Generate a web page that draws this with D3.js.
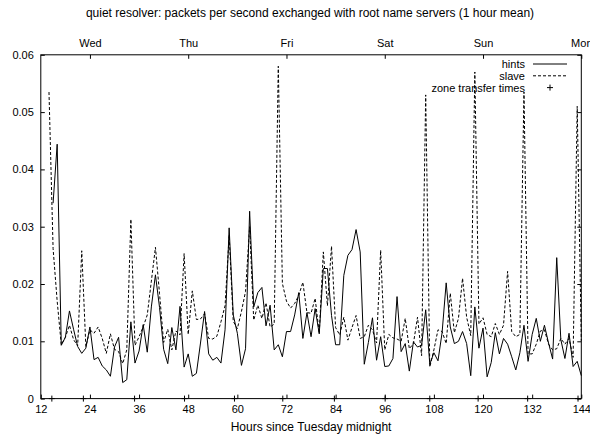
<!DOCTYPE html>
<html>
<head>
<meta charset="utf-8">
<script src="https://cdn.jsdelivr.net/npm/d3@7"></script>
<style>
  body { margin: 0; background: #fff; }
  svg { display: block; }
</style>
</head>
<body>
<div id="chart"></div>
<script>
// hourly means, hours since Tuesday midnight
var hintsStart = 15;
var hintsValues = [
  0.0341, 0.0444, 0.0093, 0.0107, 0.0153, 0.0121, 0.0091, 0.0079, 0.0088, 0.0125,
  0.0068, 0.0072, 0.0057, 0.0050, 0.0039, 0.0090, 0.0107, 0.0028, 0.0033, 0.0134,
  0.0062, 0.0083, 0.0129, 0.0081, 0.0160, 0.0216, 0.0159, 0.0086, 0.0061, 0.0124,
  0.0085, 0.0161, 0.0055, 0.0078, 0.0039, 0.0044, 0.0097, 0.0152, 0.0078, 0.0067,
  0.0072, 0.0062, 0.0120, 0.0298, 0.0146, 0.0114, 0.0058, 0.0087, 0.0327, 0.0160,
  0.0185, 0.0194, 0.0127, 0.0163, 0.0085, 0.0094, 0.0073, 0.0117, 0.0117, 0.0146,
  0.0185, 0.0105, 0.0150, 0.0108, 0.0157, 0.0113, 0.0227, 0.0227, 0.0145, 0.0094,
  0.0094, 0.0215, 0.0250, 0.0260, 0.0295, 0.0256, 0.0060, 0.0098, 0.0141, 0.0067,
  0.0108, 0.0056, 0.0057, 0.0070, 0.0178, 0.0082, 0.0096, 0.0048, 0.0099, 0.0090,
  0.0093, 0.0155, 0.0060, 0.0080, 0.0066, 0.0115, 0.0202, 0.0125, 0.0096, 0.0100,
  0.0117, 0.0096, 0.0040, 0.0160, 0.0088, 0.0123, 0.0038, 0.0063, 0.0115, 0.0078,
  0.0105, 0.0095, 0.0073, 0.0050, 0.0080, 0.0128, 0.0065, 0.0112, 0.0140, 0.0100,
  0.0128, 0.0097, 0.0069, 0.0246, 0.0103, 0.0070, 0.0114, 0.0056, 0.0065, 0.0040
];

var slaveStart = 14;
var slaveValues = [
  0.0535, 0.0262, 0.0170, 0.0094, 0.0107, 0.0128, 0.0103, 0.0092, 0.0258, 0.0091,
  0.0120, 0.0114, 0.0125, 0.0105, 0.0079, 0.0113, 0.0086, 0.0082, 0.0061, 0.0085,
  0.0313, 0.0093, 0.0108, 0.0125, 0.0146, 0.0205, 0.0264, 0.0183, 0.0098, 0.0121,
  0.0085, 0.0118, 0.0111, 0.0253, 0.0112, 0.0188, 0.0138, 0.0139, 0.0148, 0.0105,
  0.0104, 0.0109, 0.0134, 0.0162, 0.0285, 0.0135, 0.0122, 0.0152, 0.0187, 0.0300,
  0.0137, 0.0163, 0.0140, 0.0167, 0.0125, 0.0130, 0.0580, 0.0201, 0.0170, 0.0158,
  0.0166, 0.0180, 0.0203, 0.0150, 0.0149, 0.0175, 0.0114, 0.0256, 0.0162, 0.0266,
  0.0124, 0.0111, 0.0142, 0.0102, 0.0124, 0.0145, 0.0105, 0.0108, 0.0128, 0.0120,
  0.0097, 0.0259, 0.0085, 0.0112, 0.0106, 0.0104, 0.0100, 0.0140, 0.0087, 0.0096,
  0.0142, 0.0075, 0.0530, 0.0055, 0.0085, 0.0120, 0.0117, 0.0096, 0.0184, 0.0115,
  0.0140, 0.0210, 0.0142, 0.0110, 0.0570, 0.0130, 0.0141, 0.0112, 0.0108, 0.0131,
  0.0112, 0.0128, 0.0222, 0.0117, 0.0108, 0.0112, 0.0535, 0.0078, 0.0078, 0.0095,
  0.0118, 0.0120, 0.0095, 0.0085, 0.0087, 0.0105, 0.0095, 0.0105, 0.0072, 0.0510,
  0.0101
];

var zoneTransferTimes = [14.7, 22.4, 34.9, 47.1, 59.3, 71.1, 83.7, 96.1, 107.0, 118.8, 130.9, 143.2];

var hourTicks = [12, 24, 36, 48, 60, 72, 84, 96, 108, 120, 132, 144];
var dayTicks = [24, 48, 72, 96, 120, 144];
var dayLabels = ['Wed', 'Thu', 'Fri', 'Sat', 'Sun', 'Mon'];
var valueTicks = [0, 0.01, 0.02, 0.03, 0.04, 0.05, 0.06];

var titleText = 'quiet resolver: packets per second exchanged with root name servers (1 hour mean)';
var xLabelText = 'Hours since Tuesday midnight';
var legendLabels = ['hints', 'slave', 'zone transfer times'];

(function() {

  'use strict'

  var Chart = function(element) {
    this.element = element;
    this.width = 590;
    this.height = 437;
    this.margin = { left: 40.8, right: 8.7, top: 54.8, bottom: 38.4 };
    this.fontFamily = '\'Liberation Sans\', Arial, Helvetica, sans-serif';
    this.fontSize = '11px';
    this.titleSize = '12px';
    this.tickSize = 4;
    this.dash = '3,2';
  };

  Chart.prototype.init = function() {
    var m = this.margin;
    this.svg = d3.select(this.element).append('svg')
      .attr('width', this.width)
      .attr('height', this.height)
      .style('font-family', this.fontFamily)
      .style('font-size', this.fontSize);

    this.x = d3.scaleLinear().domain([12, 144]).range([m.left, this.width - m.right]);
    this.y = d3.scaleLinear().domain([0, 0.06]).range([this.height - m.bottom, m.top]);

    this.setAxes().setLines().setPoints().setLegend().setTitles();
  };

  Chart.prototype.setAxes = function() {
    var x = this.x, y = this.y, t = this.tickSize;
    var bottom = this.height - this.margin.bottom;
    var right = this.width - this.margin.right;
    var fmt = function(d) { return d === 0 ? '0' : d3.format('.2f')(d); };

    var styleAxis = function(g) {
      g.select('.domain').remove();
      g.selectAll('.tick line').attr('stroke', '#000').attr('stroke-width', 1);
      g.selectAll('.tick text').attr('fill', '#000');
      g.attr('font-family', null).attr('font-size', null);
    };

    this.svg.append('g')
      .attr('transform', 'translate(0,' + bottom + ')')
      .call(d3.axisBottom(x).tickValues(hourTicks).tickSize(-t).tickPadding(t + 3))
      .call(styleAxis);

    this.svg.append('g')
      .attr('transform', 'translate(0,' + this.margin.top + ')')
      .call(d3.axisTop(x).tickValues(dayTicks).tickFormat(function(d, i) { return dayLabels[i]; })
        .tickSize(-t).tickPadding(t + 4))
      .call(styleAxis);

    this.svg.append('g')
      .attr('transform', 'translate(' + this.margin.left + ',0)')
      .call(d3.axisLeft(y).tickValues(valueTicks).tickFormat(fmt).tickSize(-t).tickPadding(t + 3))
      .call(styleAxis);

    this.svg.append('g')
      .attr('transform', 'translate(' + right + ',0)')
      .call(d3.axisRight(y).tickValues(valueTicks).tickFormat('').tickSize(-t))
      .call(styleAxis);

    this.svg.append('rect')
      .attr('x', this.margin.left)
      .attr('y', this.margin.top)
      .attr('width', right - this.margin.left)
      .attr('height', bottom - this.margin.top)
      .attr('fill', 'none')
      .attr('stroke', '#000')
      .attr('stroke-width', 1);
    return this;
  };

  Chart.prototype.series = function(start, values) {
    return values.map(function(v, i) { return { h: start + i, v: v }; });
  };

  Chart.prototype.setLines = function() {
    var x = this.x, y = this.y;
    var line = d3.line().x(function(d) { return x(d.h); }).y(function(d) { return y(d.v); });

    this.svg.append('path')
      .datum(this.series(slaveStart, slaveValues))
      .attr('d', line)
      .attr('fill', 'none')
      .attr('stroke', '#000')
      .attr('stroke-width', 1)
      .attr('stroke-dasharray', this.dash);

    this.svg.append('path')
      .datum(this.series(hintsStart, hintsValues))
      .attr('d', line)
      .attr('fill', 'none')
      .attr('stroke', '#000')
      .attr('stroke-width', 1);
    return this;
  };

  Chart.prototype.plus = function(g, cx, cy) {
    g.append('path')
      .attr('d', 'M' + (cx - 3) + ',' + cy + 'H' + (cx + 3) + 'M' + cx + ',' + (cy - 3) + 'V' + (cy + 3))
      .attr('stroke', '#000')
      .attr('stroke-width', 1)
      .attr('fill', 'none');
  };

  Chart.prototype.setPoints = function() {
    var g = this.svg.append('g');
    var y0 = this.y(0);
    zoneTransferTimes.forEach(function(h) {
      this.plus(g, this.x(h), y0);
    }.bind(this));
    return this;
  };

  Chart.prototype.setLegend = function() {
    var g = this.svg.append('g');
    var textX = 525, sx1 = 533, sx2 = 567, y0 = 68, step = 11.8;

    legendLabels.forEach(function(label, i) {
      var yy = y0 + i * step;
      g.append('text')
        .attr('x', textX)
        .attr('y', yy)
        .attr('text-anchor', 'end')
        .text(label);
      if (i === 2) {
        this.plus(g, (sx1 + sx2) / 2, yy - 4);
      } else {
        g.append('line')
          .attr('x1', sx1).attr('x2', sx2)
          .attr('y1', yy - 4).attr('y2', yy - 4)
          .attr('stroke', '#000')
          .attr('stroke-width', 1)
          .attr('stroke-dasharray', i === 1 ? this.dash : null);
      }
    }.bind(this));
    return this;
  };

  Chart.prototype.setTitles = function() {
    this.svg.append('text')
      .attr('x', this.width / 2 + 15)
      .attr('y', 17)
      .attr('text-anchor', 'middle')
      .style('font-size', this.titleSize)
      .text(titleText);

    this.svg.append('text')
      .attr('x', (this.margin.left + this.width - this.margin.right) / 2)
      .attr('y', 431)
      .attr('text-anchor', 'middle')
      .style('font-size', this.titleSize)
      .text(xLabelText);
    return this;
  };

  var app = new Chart('#chart');
  app.init();

})();
</script>
</body>
</html>
